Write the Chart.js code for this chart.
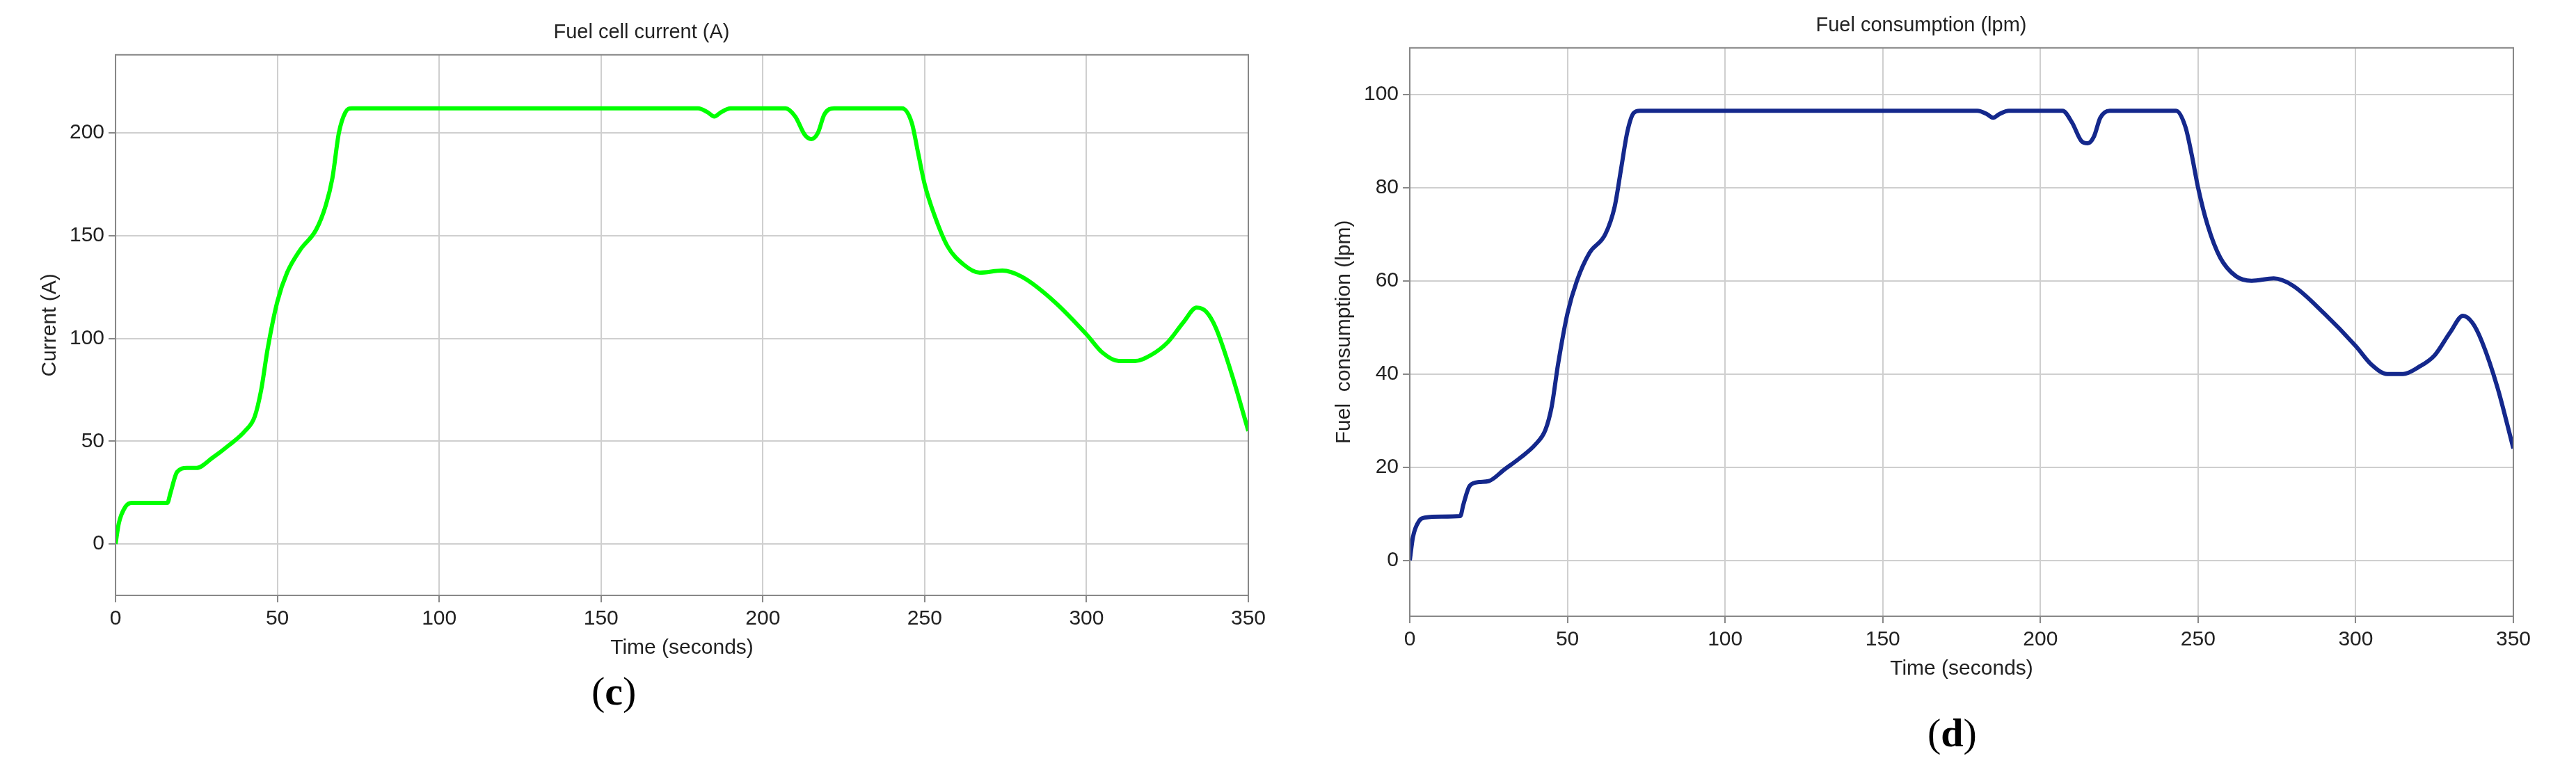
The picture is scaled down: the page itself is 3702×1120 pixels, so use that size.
<!DOCTYPE html>
<html>
<head>
<meta charset="utf-8">
<script src="https://cdn.jsdelivr.net/npm/chart.js@4"></script>
<style>
  body { margin: 0; background: #fff; width: 3702px; height: 1120px; position: relative; overflow: hidden; }
  .box { position: absolute; }
  .cap { position: absolute; font-family: "Liberation Serif", serif; font-size: 58px; }
  .cap b { font-weight: bold; }
</style>
</head>
<body>
<div class="box" style="left:0;top:0;width:1830px;height:960px"><canvas id="c1"></canvas></div>
<div class="box" style="left:1860px;top:0;width:1842px;height:1000px"><canvas id="c2"></canvas></div>
<div class="cap" style="left:850px;top:960px">(<b>c</b>)</div>
<div class="cap" style="left:2770px;top:1020px">(<b>d</b>)</div>
<script>
// time stamps shared by both curves (seconds)
var times = [0,1,3,5,10,16,17,19,22,25,30,35,40,43,45,47,50,53,57,62,65,67,69,71,73,180,183,185,187,190,207,210,213,215,217,219,222,243,246,248,250,253,257,262,267,274,280,290,300,305,310,315,320,325,330,334,337,340,345,350]

// fuel cell current (A)
var current = [0,10,18,20,20,20,25,35,37,37,42,48,55,62,75,95,118,132,143,153,165,178,200,210,212,212,210,208,210,212,212,208,199,197,200,209,212,212,205,190,175,160,145,136,132,133,130,118,102,93,89,89,92,98,108,115,113,105,82,55]

// fuel consumption (lpm)
var fuel = [0,5,8.5,9.2,9.4,9.5,12,16,16.8,17,19.5,22,25,28,33,42,53,60,66,70,76,84,92,96,96.5,96.5,95.8,95,95.8,96.5,96.5,94,90,89.5,91,95,96.5,96.5,93,87,80,72,65,61,60,60.5,59,53,46,42,40,40,41.5,44,49,52.5,51,47,37,24]

var xTicks = [0,50,100,150,200,250,300,350]

function pts(ys) {
    return times.map((t, i) => ({ x: t, y: ys[i] }))
}

// draws the closed box around the plot area, like matlab
var boxPlugin = {
    id: "box",
    afterDraw(chart) {
        var a = chart.chartArea, ctx = chart.ctx
        ctx.save()
        ctx.strokeStyle = "#888"
        ctx.lineWidth = 2
        ctx.strokeRect(a.left, a.top, a.right - a.left, a.bottom - a.top)
        ctx.restore()
    }
}

function makeChart(id, title, ylabel, ys, color, ymin, ymax, step, pad) {
    var font = { family: "Liberation Sans, Arial, sans-serif", size: 30 }
    var grid = { color: "#cfcfcf", lineWidth: 2, tickColor: "#888", tickLength: 10 }
    return new Chart(document.getElementById(id), {
        type: "line",
        data: { datasets: [{ data: pts(ys), borderColor: color, borderWidth: 6, pointRadius: 0, cubicInterpolationMode: "monotone", fill: false }] },
        plugins: [boxPlugin],
        options: {
            responsive: true,
            maintainAspectRatio: false,
            animation: false,
            layout: { padding: pad },
            plugins: {
                legend: { display: false },
                tooltip: { enabled: false },
                title: { display: true, text: title, color: "#222", font: { family: font.family, size: 29, weight: "normal" }, padding: { top: 0, bottom: 14 } }
            },
            scales: {
                x: {
                    type: "linear", min: 0, max: 350,
                    afterBuildTicks: (ax) => { ax.ticks = xTicks.map(v => ({ value: v })) },
                    ticks: { color: "#222", font: font, maxRotation: 0, padding: 6 },
                    grid: grid,
                    border: { color: "#888", width: 2 },
                    title: { display: true, text: "Time (seconds)", color: "#222", font: font, padding: 0 }
                },
                y: {
                    min: ymin, max: ymax,
                    afterBuildTicks: (ax) => {
                        var t = []
                        for (var v = 0; v <= ymax; v += step) t.push({ value: v })
                        ax.ticks = t
                    },
                    ticks: { color: "#222", font: font, padding: 6 },
                    grid: grid,
                    border: { color: "#888", width: 2 },
                    title: { display: true, text: ylabel, color: "#222", font: font, padding: 4 }
                }
            }
        }
    })
}

makeChart("c1", "Fuel cell current (A)", "Current (A)", current, "#00ff00", -25, 238, 50, { left: 50, right: 36, top: 30, bottom: 10 })
makeChart("c2", "Fuel consumption (lpm)", "Fuel  consumption (lpm)", fuel, "#14288c", -12, 110, 20, { left: 50, right: 90, top: 20, bottom: 20 })
</script>
</body>
</html>
